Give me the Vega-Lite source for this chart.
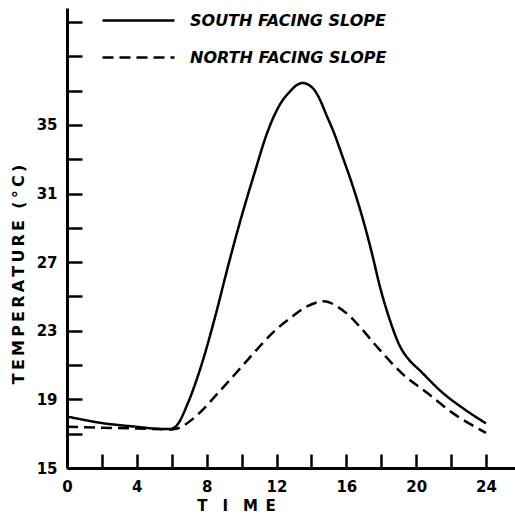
{
  "$schema": "https://vega.github.io/schema/vega-lite/v6.json",
  "width": 448,
  "height": 460,
  "autosize": {"type": "none"},
  "padding": {"left": 67, "top": 8, "right": 0, "bottom": 48},
  "background": "white",
  "config": {
    "view": {"stroke": null},
    "font": "DejaVu Sans"
  },
  "data": {
    "values": [
      {"time": 0, "temp": 18.0, "slope": "SOUTH FACING SLOPE"},
      {"time": 1, "temp": 17.8, "slope": "SOUTH FACING SLOPE"},
      {"time": 2, "temp": 17.62, "slope": "SOUTH FACING SLOPE"},
      {"time": 3, "temp": 17.5, "slope": "SOUTH FACING SLOPE"},
      {"time": 4, "temp": 17.4, "slope": "SOUTH FACING SLOPE"},
      {"time": 5, "temp": 17.3, "slope": "SOUTH FACING SLOPE"},
      {"time": 5.9, "temp": 17.27, "slope": "SOUTH FACING SLOPE"},
      {"time": 6.3, "temp": 17.5, "slope": "SOUTH FACING SLOPE"},
      {"time": 6.93, "temp": 18.8, "slope": "SOUTH FACING SLOPE"},
      {"time": 7.73, "temp": 21.1, "slope": "SOUTH FACING SLOPE"},
      {"time": 8.48, "temp": 23.8, "slope": "SOUTH FACING SLOPE"},
      {"time": 9.22, "temp": 26.75, "slope": "SOUTH FACING SLOPE"},
      {"time": 9.8, "temp": 28.95, "slope": "SOUTH FACING SLOPE"},
      {"time": 10.8, "temp": 32.4, "slope": "SOUTH FACING SLOPE"},
      {"time": 11.45, "temp": 34.5, "slope": "SOUTH FACING SLOPE"},
      {"time": 12.2, "temp": 36.2, "slope": "SOUTH FACING SLOPE"},
      {"time": 12.77, "temp": 36.95, "slope": "SOUTH FACING SLOPE"},
      {"time": 13.2, "temp": 37.35, "slope": "SOUTH FACING SLOPE"},
      {"time": 13.5, "temp": 37.45, "slope": "SOUTH FACING SLOPE"},
      {"time": 13.9, "temp": 37.3, "slope": "SOUTH FACING SLOPE"},
      {"time": 14.2, "temp": 37.0, "slope": "SOUTH FACING SLOPE"},
      {"time": 14.5, "temp": 36.45, "slope": "SOUTH FACING SLOPE"},
      {"time": 14.85, "temp": 35.6, "slope": "SOUTH FACING SLOPE"},
      {"time": 15.23, "temp": 34.7, "slope": "SOUTH FACING SLOPE"},
      {"time": 15.8, "temp": 33.1, "slope": "SOUTH FACING SLOPE"},
      {"time": 16.38, "temp": 31.4, "slope": "SOUTH FACING SLOPE"},
      {"time": 16.95, "temp": 29.5, "slope": "SOUTH FACING SLOPE"},
      {"time": 17.47, "temp": 27.5, "slope": "SOUTH FACING SLOPE"},
      {"time": 17.93, "temp": 25.55, "slope": "SOUTH FACING SLOPE"},
      {"time": 18.5, "temp": 23.6, "slope": "SOUTH FACING SLOPE"},
      {"time": 19.07, "temp": 22.1, "slope": "SOUTH FACING SLOPE"},
      {"time": 19.6, "temp": 21.3, "slope": "SOUTH FACING SLOPE"},
      {"time": 20.2, "temp": 20.7, "slope": "SOUTH FACING SLOPE"},
      {"time": 21.5, "temp": 19.4, "slope": "SOUTH FACING SLOPE"},
      {"time": 22.8, "temp": 18.4, "slope": "SOUTH FACING SLOPE"},
      {"time": 24, "temp": 17.6, "slope": "SOUTH FACING SLOPE"},
      {"time": 0, "temp": 17.4, "slope": "NORTH FACING SLOPE"},
      {"time": 2, "temp": 17.35, "slope": "NORTH FACING SLOPE"},
      {"time": 4, "temp": 17.3, "slope": "NORTH FACING SLOPE"},
      {"time": 6, "temp": 17.25, "slope": "NORTH FACING SLOPE"},
      {"time": 6.4, "temp": 17.33, "slope": "NORTH FACING SLOPE"},
      {"time": 7.33, "temp": 17.97, "slope": "NORTH FACING SLOPE"},
      {"time": 8.65, "temp": 19.37, "slope": "NORTH FACING SLOPE"},
      {"time": 10.0, "temp": 20.9, "slope": "NORTH FACING SLOPE"},
      {"time": 11.0, "temp": 22.05, "slope": "NORTH FACING SLOPE"},
      {"time": 11.9, "temp": 23.0, "slope": "NORTH FACING SLOPE"},
      {"time": 12.8, "temp": 23.75, "slope": "NORTH FACING SLOPE"},
      {"time": 13.7, "temp": 24.4, "slope": "NORTH FACING SLOPE"},
      {"time": 14.75, "temp": 24.72, "slope": "NORTH FACING SLOPE"},
      {"time": 15.5, "temp": 24.4, "slope": "NORTH FACING SLOPE"},
      {"time": 16.3, "temp": 23.75, "slope": "NORTH FACING SLOPE"},
      {"time": 16.8, "temp": 23.2, "slope": "NORTH FACING SLOPE"},
      {"time": 17.9, "temp": 21.9, "slope": "NORTH FACING SLOPE"},
      {"time": 19.2, "temp": 20.5, "slope": "NORTH FACING SLOPE"},
      {"time": 20.6, "temp": 19.4, "slope": "NORTH FACING SLOPE"},
      {"time": 22.1, "temp": 18.2, "slope": "NORTH FACING SLOPE"},
      {"time": 24, "temp": 17.05, "slope": "NORTH FACING SLOPE"}
    ]
  },
  "mark": {"type": "line", "interpolate": "monotone", "color": "black", "strokeWidth": 2.5},
  "encoding": {
    "x": {
      "field": "time",
      "type": "quantitative",
      "scale": {"domain": [0, 25.66], "nice": false},
      "axis": {
        "title": "T\u2003I\u2003M\u2002E",
        "titleFont": "DejaVu Sans",
        "titleFontSize": 15,
        "titleFontWeight": "bold",
        "titleColor": "black",
        "titleX": 169,
        "titleY": 37,
        "titleAlign": "center",
        "titleBaseline": "middle",
        "values": [0, 2, 4, 6, 8, 10, 12, 14, 16, 18, 20, 22, 24],
        "labelExpr": "datum.value % 4 === 0 ? datum.label : ''",
        "labelFont": "DejaVu Sans",
        "labelFontSize": 15,
        "labelFontWeight": "bold",
        "labelColor": "black",
        "labelPadding": 25,
        "labelFlush": false,
        "grid": false,
        "tickSize": -14,
        "tickWidth": 2.5,
        "tickColor": "black",
        "domainColor": "black",
        "domainWidth": 3
      }
    },
    "y": {
      "field": "temp",
      "type": "quantitative",
      "scale": {"domain": [15, 41.82], "nice": false, "zero": false},
      "axis": {
        "title": "T\u2009E\u2009M\u2009P\u2009E\u2009R\u2009A\u2009T\u2009U\u2009R\u2009E\u2002\u2009(\u2009°\u2009C\u2009)",
        "titleFont": "DejaVu Sans",
        "titleFontSize": 16,
        "titleFontWeight": "bold",
        "titleColor": "black",
        "titleAngle": -90,
        "titleX": -49,
        "titleY": 266,
        "titleAlign": "center",
        "titleBaseline": "middle",
        "values": [15, 17, 19, 21, 23, 25, 27, 29, 31, 33, 35, 37, 39, 41],
        "labelExpr": "(datum.value - 15) % 4 === 0 && datum.value <= 35 ? datum.label : ''",
        "labelFont": "DejaVu Sans",
        "labelFontSize": 15,
        "labelFontWeight": "bold",
        "labelColor": "black",
        "labelPadding": 25,
        "labelFlush": false,
        "grid": false,
        "tickSize": -15,
        "tickWidth": 2.5,
        "tickColor": "black",
        "domainColor": "black",
        "domainWidth": 3
      }
    },
    "strokeDash": {
      "field": "slope",
      "type": "nominal",
      "scale": {"domain": ["SOUTH FACING SLOPE", "NORTH FACING SLOPE"], "range": [[1, 0], [11, 6]]},
      "legend": {
        "title": null,
        "orient": "none",
        "legendX": 34,
        "legendY": -7,
        "symbolType": "M-1,0H3",
        "symbolSize": 1296,
        "symbolStrokeWidth": 2.5,
        "symbolStrokeColor": "black",
        "labelFont": "DejaVu Sans",
        "labelFontSize": 16,
        "labelFontWeight": "bold",
        "labelFontStyle": "italic",
        "labelColor": "black",
        "labelOffset": 50,
        "rowPadding": 9,
        "labelLimit": 300
      }
    }
  }
}
